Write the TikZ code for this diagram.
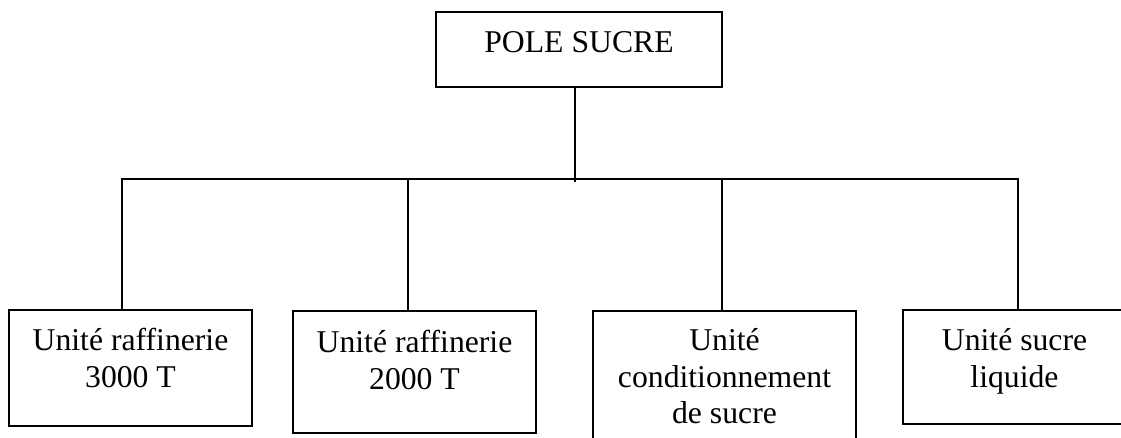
\documentclass[tikz,border=0pt]{standalone}
\usepackage{fontspec}
\setmainfont{Liberation Serif}
\begin{document}
\begin{tikzpicture}[x=1pt,y=-1pt,
  unitbox/.style={draw, line width=1.5pt, rectangle, inner sep=0pt},
  label/.style={anchor=north, inner sep=0pt, align=center,
    font=\fontsize{31.7}{36.5}\selectfont},
  link/.style={line width=1.5pt}]
\useasboundingbox (0,0) rectangle (1121,437);
\clip (0,0) rectangle (1121,437);

% head of the organisation
\node[unitbox, minimum width=286, minimum height=75] (top) at (579,49.5) {};
\node[label] (ttop) at ([yshift=-16pt]top.north) {\rule{0pt}{25.4pt}POLE SUCRE};

% the four units
\node[unitbox, minimum width=243, minimum height=116] (b1) at (130.5,368) {};
\node[unitbox, minimum width=243, minimum height=122] (b2) at (414.5,372) {};
\node[unitbox, minimum width=263, minimum height=150] (b3) at (724.5,386) {};
\node[unitbox, minimum width=223, minimum height=114] (b4) at (1014.5,367) {};

\node[label] (t1) at ([yshift=-16pt]b1.north) {\rule{0pt}{25.4pt}Unité raffinerie\\3000 T};
\node[label] (t2) at ([yshift=-17pt]b2.north) {\rule{0pt}{25.4pt}Unité raffinerie\\2000 T};
\node[label] (t3) at ([yshift=-15pt]b3.north) {\rule{0pt}{25.4pt}Unité\\conditionnement\\de sucre};
\node[label] (t4) at ([yshift=-16pt]b4.north) {\rule{0pt}{25.4pt}Unité sucre\\liquide};

% tree connectors
\coordinate (hub) at (575,182);
\coordinate (j1) at (122,179);
\coordinate (j2) at (408,179);
\coordinate (j3) at (722,179);
\coordinate (j4) at (1018,179);

\draw[link] (hub |- top.south) -- (hub);
\draw[link] (j1 |- b1.north) -- (j1) -- (j4) -- (j4 |- b4.north);
\draw[link] (j2) -- (j2 |- b2.north);
\draw[link] (j3) -- (j3 |- b3.north);
\end{tikzpicture}
\end{document}
